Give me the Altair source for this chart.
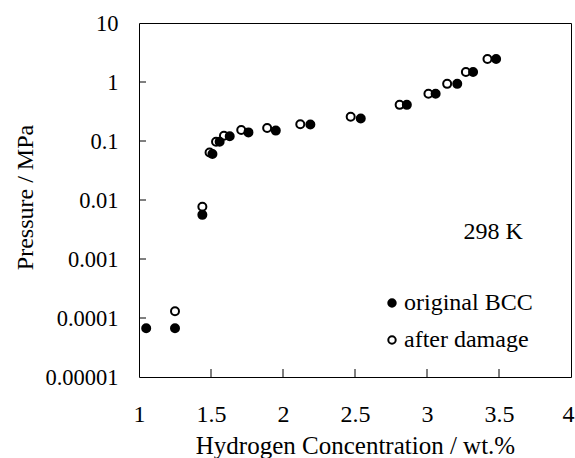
import altair as alt
import pandas as pd

FONT = "Liberation Serif"

# original BCC (filled circles)
orig_x = [1.05, 1.25, 1.44, 1.51, 1.56, 1.63, 1.76, 1.95, 2.19, 2.54, 2.86, 3.06, 3.21, 3.32, 3.48]
orig_y = [0.000067, 0.000067, 0.0056, 0.060, 0.097, 0.12, 0.14, 0.15, 0.19, 0.24, 0.41, 0.63, 0.93, 1.48, 2.45]

# after damage (open circles)
dmg_x = [1.25, 1.44, 1.49, 1.535, 1.59, 1.71, 1.89, 2.12, 2.47, 2.81, 3.01, 3.14, 3.27, 3.42]
dmg_y = [0.00013, 0.0077, 0.064, 0.097, 0.123, 0.154, 0.166, 0.192, 0.258, 0.41, 0.63, 0.93, 1.48, 2.45]

series_names = ["original BCC", "after damage"]
x_ticks = [1, 1.5, 2, 2.5, 3, 3.5, 4]
y_ticks = [10, 1, 0.1, 0.01, 0.001, 0.0001, 0.00001]
x_inner_ticks = [1.5, 2, 2.5, 3, 3.5]
y_inner_ticks = [1, 0.1, 0.01, 0.001, 0.0001]
ann_x = [3.46]
ann_y = [0.0022]
ann_text = ["298 K"]

rows = [{"conc": x, "pressure": y, "series": "after damage"} for x, y in zip(dmg_x, dmg_y)]
rows += [{"conc": x, "pressure": y, "series": "original BCC"} for x, y in zip(orig_x, orig_y)]
df = pd.DataFrame(rows)

W, H = 432, 354
x_scale = alt.Scale(domain=[1, 4], nice=False, zero=False)
y_scale = alt.Scale(type="log", domain=[0.00001, 10], nice=False)

points = alt.Chart(df).mark_point(
    shape="circle", filled=True, stroke="black", strokeWidth=2, size=64, opacity=1
).encode(
    x=alt.X("conc:Q", scale=x_scale, axis=alt.Axis(
        values=x_ticks, format="~g", grid=False, domain=False, ticks=False, tickSize=0,
        labelFont=FONT, labelFontSize=24, labelColor="black", labelPadding=44,
        labelBaseline="alphabetic", labelFlush=False, labelOverlap=False, labelBound=False,
        labelOffset={"condition": {"test": "datum.value == 4", "value": -3}, "value": 0},
        title="Hydrogen Concentration / wt.%", titleFont=FONT, titleFontSize=25,
        titleFontWeight="normal", titleColor="black", titleY=76, titleBaseline="alphabetic")),
    y=alt.Y("pressure:Q", scale=y_scale, axis=alt.Axis(
        values=y_ticks, format="~g", grid=False, domain=False, ticks=False, tickSize=0,
        labelFont=FONT, labelFontSize=22.5, labelColor="black", labelPadding=21,
        labelFlush=False, labelOverlap=False, labelBound=False,
        title="Pressure / MPa", titleFont=FONT, titleFontSize=24, titleFontWeight="normal",
        titleColor="black", titleX=-107, titleY=174, titleBaseline="alphabetic", titleAngle=270)),
    fill=alt.Fill("series:N", scale=alt.Scale(domain=series_names, range=["black", "white"]),
                  legend=alt.Legend(orient="none", legendX=241, legendY=268, title=None,
                                    labelFont=FONT, labelFontSize=24, labelColor="black",
                                    symbolType="circle", symbolSize=55,
                                    symbolStrokeColor="black", symbolStrokeWidth=2,
                                    rowPadding=13, labelOffset=0, padding=0)),
)

xt = alt.Chart(pd.DataFrame({"t": x_inner_ticks})).mark_rule(color="black", strokeWidth=1).encode(
    x=alt.X("t:Q", scale=x_scale), y=alt.value(H), y2=alt.value(H - 8)
)
yt = alt.Chart(pd.DataFrame({"t": y_inner_ticks})).mark_rule(color="black", strokeWidth=1).encode(
    y=alt.Y("t:Q", scale=y_scale), x=alt.value(0), x2=alt.value(7)
)

ann = alt.Chart(pd.DataFrame({"x": ann_x, "y": ann_y, "label": ann_text})).mark_text(
    font=FONT, fontSize=24, color="black", align="center", baseline="alphabetic"
).encode(
    x=alt.X("x:Q", scale=x_scale), y=alt.Y("y:Q", scale=y_scale), text="label:N"
)

chart = alt.layer(points, xt, yt, ann).properties(
    width=W, height=H,
    padding={"left": 139, "top": 23, "right": 4, "bottom": 81},
    autosize=alt.AutoSizeParams(type="none"),
    background="white",
).configure_view(stroke="black", strokeWidth=1)

chart.save("out.html", embed_options={"renderer": "svg", "actions": False})
